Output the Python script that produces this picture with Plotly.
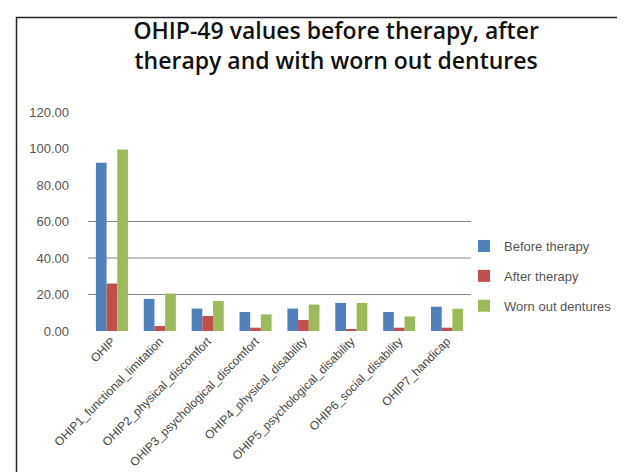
import plotly.graph_objects as go

categories = ["OHIP", "OHIP1_functional_limitation", "OHIP2_physical_discomfort",
              "OHIP3_psychological_discomfort", "OHIP4_physical_disability",
              "OHIP5_psychological_disability", "OHIP6_social_disability", "OHIP7_handicap"]
before = [92.2, 17.6, 12.3, 10.4, 12.3, 15.4, 10.4, 13.3]
after = [26.0, 2.7, 8.2, 1.8, 6.0, 0.9, 1.8, 1.8]
worn = [99.5, 20.5, 16.4, 9.1, 14.5, 15.4, 8.0, 12.2]
series_names = ["Before therapy", "After therapy", "Worn out dentures"]
colors = ["#4F81BD", "#C0504D", "#9BBB59"]
tick_vals = [0, 20, 40, 60, 80, 100, 120]
tick_text = ["0.00", "20.00", "40.00", "60.00", "80.00", "100.00", "120.00"]
grid_vals = [20, 40, 60]

W, H = 625, 472
L, R, T, B = 80, 162, 104, 149
pw, ph = W - L - R, H - T - B

fig = go.Figure()
for i, (name, vals) in enumerate(zip(series_names, [before, after, worn])):
    fig.add_trace(go.Bar(x=categories, y=vals, name=name, marker_color=colors[i],
                         marker_line_width=0, legendgroup=name))

shapes = []
for g in grid_vals:
    shapes.append(dict(type="line", xref="paper", yref="y", x0=0, x1=1, y0=g, y1=g,
                       line=dict(color="#868686", width=1), layer="below"))
# outer chart border (pixel -> paper)
def px_x(p):
    return (p - L) / pw
def px_y(p):
    return (H - B - p) / ph
shapes.append(dict(type="rect", xref="paper", yref="paper",
                   x0=px_x(8.5), x1=px_x(640), y0=px_y(490), y1=px_y(9.5),
                   line=dict(color="#222222", width=1.5), layer="below"))

fig.update_layout(
    width=W, height=H,
    margin=dict(l=L, r=R, t=T, b=B, autoexpand=False),
    paper_bgcolor="white", plot_bgcolor="white",
    font=dict(family="Liberation Sans, Arial", color="#333333"),
    title=dict(text="OHIP-49 values before therapy, after<br>therapy and with worn out dentures",
               x=0.525, xanchor="center", y=1 - 31 / H, yanchor="top",
               font=dict(family="Open Sans", size=23, weight=600, color="#111111")),
    barmode="group", bargap=0.33, bargroupgap=0,
    xaxis=dict(tickangle=-45, showgrid=False, showline=False, ticks="", automargin=False,
               tickfont=dict(size=12, color="#444444")),
    yaxis=dict(range=[0, 120], tickvals=tick_vals, ticktext=tick_text, showgrid=False,
               zeroline=False, showline=False, ticks="", automargin=False,
               ticklabelstandoff=18,
               tickfont=dict(size=13, color="#555555")),
    legend=dict(x=px_x(456), xanchor="left", y=px_y(223), yanchor="top",
                bgcolor="rgba(0,0,0,0)",
                font=dict(size=13, color="#555555"), tracegroupgap=10,
                itemwidth=30),
    shapes=shapes,
)
fig.write_html("out.html")
